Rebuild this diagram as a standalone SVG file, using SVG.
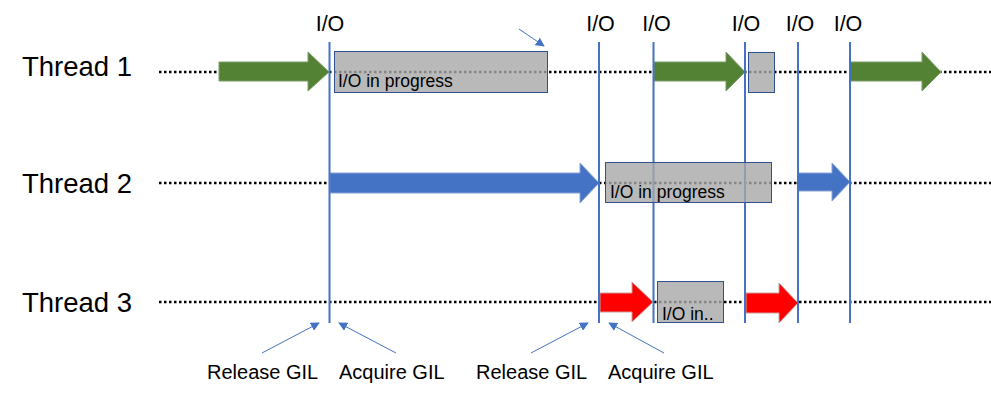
<svg xmlns="http://www.w3.org/2000/svg" width="991" height="401" viewBox="0 0 991 401">
<defs>
<style>
.lbl{font-family:"Liberation Sans",Arial,sans-serif;fill:#000}
.thr{font-size:27.5px}
.io{font-size:21.5px;text-anchor:middle}
.gil{font-size:20px}
.box{fill:#a8a8a8;fill-opacity:0.8;stroke:#2f528f;stroke-width:1}
.btxt{font-size:17.5px}
.dots{stroke:#000;stroke-width:2.5;stroke-dasharray:2.5 2.5;fill:none}
.vline{stroke:#4472c4;stroke-width:2}
.green{fill:#548235;stroke:#7c9c68;stroke-width:1}
.blue{fill:#4472c4;stroke:#8aa3d4;stroke-width:1}
.red{fill:#ff0000;stroke:#c9a0a0;stroke-width:1}
.ptr{stroke:#4472c4;stroke-width:1;fill:none;marker-end:url(#ah)}
</style>
<marker id="ah" viewBox="0 0 10 10" refX="9" refY="5" markerWidth="9" markerHeight="9" markerUnits="userSpaceOnUse" orient="auto">
<path d="M0,0 L10,5 L0,10 z" fill="#4472c4"/>
</marker>
</defs>
<rect width="991" height="401" fill="#fff"/>

<g id="timelines">
<line class="dots" x1="159" y1="72" x2="991" y2="72"/>
<line class="dots" x1="159" y1="183" x2="991" y2="183"/>
<line class="dots" x1="159" y1="302" x2="991" y2="302"/>
</g>

<g id="labels">
<text class="lbl thr" x="22" y="76">Thread 1</text>
<text class="lbl thr" x="22" y="193">Thread 2</text>
<text class="lbl thr" x="22" y="312">Thread 3</text>
</g>

<g id="thread1">
<path class="green" d="M219,62 H308 V52 L329,72 L308,91 V81 H219 Z"/>
<path class="green" d="M654,62 H726 V52 L745,72 L726,91 V81 H654 Z"/>
<path class="green" d="M850,62 H922 V52 L941,72 L922,91 V81 H850 Z"/>
</g>

<g id="thread2">
<path class="blue" d="M330,173 H580 V163 L599,183 L580,203 V193 H330 Z"/>
<path class="blue" d="M798,173 H832 V163 L850,182 L832,201 V191 H798 Z"/>
</g>

<g id="thread3">
<path class="red" d="M600,293 H632 V282 L653,302 L632,322 V312 H600 Z"/>
<path class="red" d="M746,293 H779 V283 L798,303 L779,323 V313 H746 Z"/>
</g>

<g id="connectors">
<line class="vline" x1="329.5" y1="42" x2="329.5" y2="323"/>
<line class="vline" x1="599" y1="42" x2="599" y2="323"/>
<line class="vline" x1="653.5" y1="42" x2="653.5" y2="323"/>
<line class="vline" x1="745" y1="42" x2="745" y2="323"/>
<line class="vline" x1="798" y1="42" x2="798" y2="323"/>
<line class="vline" x1="850" y1="42" x2="850" y2="323"/>
<line class="ptr" x1="519" y1="29" x2="544" y2="46"/>
<line class="ptr" x1="262" y1="353" x2="319" y2="323"/>
<line class="ptr" x1="396" y1="353" x2="339" y2="323"/>
<line class="ptr" x1="531" y1="353" x2="588" y2="323"/>
<line class="ptr" x1="664" y1="353" x2="609" y2="323"/>
</g>

<g id="io-boxes">
<g id="box1"><rect class="box" x="334.5" y="51.5" width="213" height="41"/><text class="lbl btxt" x="338" y="87">I/O in progress</text></g>
<g id="box2"><rect class="box" x="748.5" y="52.5" width="26" height="40"/></g>
<g id="box3"><rect class="box" x="605.5" y="162.5" width="166" height="40"/><text class="lbl btxt" x="610" y="198">I/O in progress</text></g>
<g id="box4"><rect class="box" x="657.5" y="281.5" width="66" height="41"/><text class="lbl btxt" x="662" y="320">I/O in..</text></g>
</g>

<g id="io-labels">
<text class="lbl io" x="330" y="31">I/O</text>
<text class="lbl io" x="600.5" y="31">I/O</text>
<text class="lbl io" x="656.5" y="31">I/O</text>
<text class="lbl io" x="746" y="31">I/O</text>
<text class="lbl io" x="800" y="31">I/O</text>
<text class="lbl io" x="848" y="31">I/O</text>
</g>

<g id="gil-labels">
<text class="lbl gil" x="207" y="379">Release GIL</text>
<text class="lbl gil" x="339" y="379">Acquire GIL</text>
<text class="lbl gil" x="476" y="379">Release GIL</text>
<text class="lbl gil" x="608" y="379">Acquire GIL</text>
</g>
</svg>
